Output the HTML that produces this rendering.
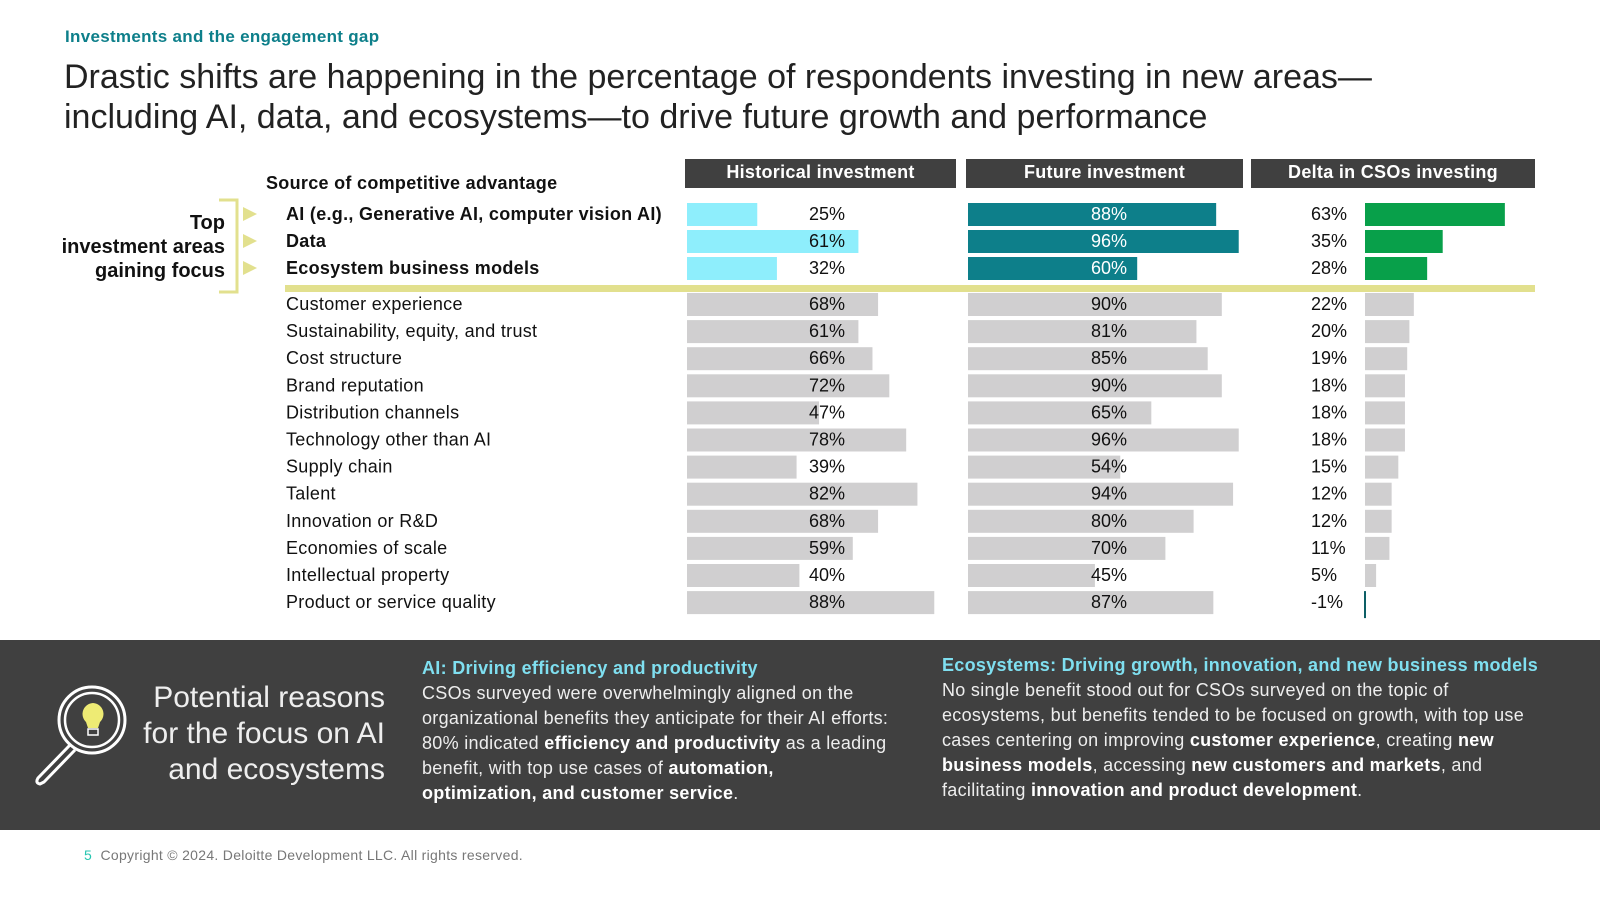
<!DOCTYPE html>
<html><head><meta charset="utf-8">
<style>
html,body{margin:0;padding:0;width:1600px;height:900px;background:#fff;overflow:hidden;font-family:"Liberation Sans",sans-serif;}
svg{position:absolute;left:0;top:0}
.t{position:absolute;margin:0}
</style></head>
<body>
<div class="t" style="left:65px;top:27px;font-size:17px;font-weight:bold;color:#0d7f8a;letter-spacing:0.3px">Investments and the engagement gap</div>
<div class="t" style="left:64px;top:57px;font-size:34px;line-height:40px;color:#222;width:1450px">Drastic shifts are happening in the percentage of respondents investing in new areas—<br>including AI, data, and ecosystems—to drive future growth and performance</div>

<svg id="chart" width="1600" height="640"></svg>

<div style="position:absolute;left:0;top:640px;width:1600px;height:190px;background:#404040"></div>
<svg width="1600" height="900" style="pointer-events:none">
<circle cx="92" cy="720" r="33" fill="none" stroke="#fff" stroke-width="3"/>
<circle cx="92" cy="720" r="27" fill="none" stroke="#fff" stroke-width="2.5"/>
<path d="M70 745 L38 778 Q35 783 40 784 L44 782 L75 750" fill="none" stroke="#fff" stroke-width="3" stroke-linejoin="round"/>
<path d="M93 703 a11 11 0 0 1 7 19 l-2 6 h-10 l-2 -6 a11 11 0 0 1 7 -19z" fill="#eeeb74"/>
<rect x="88" y="729" width="10" height="6" fill="none" stroke="#fff" stroke-width="1.5"/>
</svg>
<div class="t" style="left:100px;top:680px;width:285px;text-align:right;font-size:30px;line-height:36px;color:#eee">Potential reasons<br>for the focus on AI<br>and ecosystems</div>
<div class="t" style="left:422px;top:656px;white-space:nowrap;font-size:18px;line-height:25px;color:#eee;letter-spacing:0.3px"><b style="color:#7fdff0">AI: Driving efficiency and productivity</b><br>CSOs surveyed were overwhelmingly aligned on the<br>organizational benefits they anticipate for their AI efforts:<br>80% indicated <b style="color:#fff">efficiency and productivity</b> as a leading<br>benefit, with top use cases of <b style="color:#fff">automation,</b><br><b style="color:#fff">optimization, and customer service</b>.</div>
<div class="t" style="left:942px;top:653px;white-space:nowrap;font-size:18px;line-height:25px;color:#eee;letter-spacing:0.3px"><b style="color:#7fdff0">Ecosystems: Driving growth, innovation, and new business models</b><br>No single benefit stood out for CSOs surveyed on the topic of<br>ecosystems, but benefits tended to be focused on growth, with top use<br>cases centering on improving <b style="color:#fff">customer experience</b>, creating <b style="color:#fff">new</b><br><b style="color:#fff">business models</b>, accessing <b style="color:#fff">new customers and markets</b>, and<br>facilitating <b style="color:#fff">innovation and product development</b>.</div>
<div class="t" style="left:84px;top:847px;font-size:14px;color:#777;letter-spacing:0.3px"><span style="color:#26c6b0">5</span>&nbsp; Copyright © 2024. Deloitte Development LLC. All rights reserved.</div>

<script>
const categories=["AI (e.g., Generative AI, computer vision AI)","Data","Ecosystem business models","Customer experience","Sustainability, equity, and trust","Cost structure","Brand reputation","Distribution channels","Technology other than AI","Supply chain","Talent","Innovation or R&D","Economies of scale","Intellectual property","Product or service quality"];
const historical=[25,61,32,68,61,66,72,47,78,39,82,68,59,40,88];
const future=[88,96,60,90,81,85,90,65,96,54,94,80,70,45,87];
const delta=[63,35,28,22,20,19,18,18,18,15,12,12,11,5,-1];
const headers=["Historical investment","Future investment","Delta in CSOs investing"];

const NS="http://www.w3.org/2000/svg";
const svg=document.getElementById('chart');
function mk(tag,attrs,text){const e=document.createElementNS(NS,tag);for(const k in attrs)e.setAttribute(k,attrs[k]);if(text!==undefined)e.textContent=text;svg.appendChild(e);return e;}
function rowY(i){return i<3?214+i*27:304+(i-3)*27.1;}
const hx=v=>687+v*2.81, fx=v=>968+v*2.82, dx=v=>1365+v*2.22;
const hdr=[[685,271],[966,277],[1251,284]];
hdr.forEach((h,i)=>{
 let r=mk('rect',{x:h[0],y:159,width:h[1],height:29,fill:'#404040'});
 
 
 let t=mk('text',{x:h[0]+h[1]/2,y:178,'text-anchor':'middle','font-size':18,'font-weight':'bold',fill:'#fff','letter-spacing':0.3},headers[i]);
 
 
});
let st=mk('text',{x:266,y:189,'font-size':18,'font-weight':'bold',fill:'#111','letter-spacing':0.3},'Source of competitive advantage');


["Top","investment areas","gaining focus"].forEach((s,i)=>{
 let t=mk('text',{x:225,y:229+i*24,'text-anchor':'end','font-size':20,'font-weight':'bold',fill:'#111'},s);
 
 
});
let br=mk('path',{d:'M219 200 H237 V292 H219',fill:'none',stroke:'#e2e08e','stroke-width':3});


let sep=mk('rect',{x:285,y:285,width:1250,height:7,fill:'#e2e08e'});


categories.forEach((c,i)=>{
 const y=rowY(i), top=i<3;
 if(top){let tr=mk('path',{d:`M243 ${y-7} L257 ${y} L243 ${y+7}Z`,fill:'#e2e08e'});
  
  }
 let l=mk('text',{x:286,y:y+6,'font-size':18,'font-weight':top?'bold':'normal',fill:'#111','letter-spacing':0.3},c);
 
 
 let b1=mk('rect',{x:hx(0),y:y-11,width:hx(historical[i])-hx(0),height:23,fill:top?'#8eeefc':'#d0cfd0'});
 
 
 let t1=mk('text',{x:827,y:y+6,'text-anchor':'middle','font-size':18,fill:'#111'},historical[i]+'%');
 
 
 let b2=mk('rect',{x:fx(0),y:y-11,width:fx(future[i])-fx(0),height:23,fill:top?'#0d7f8a':'#d0cfd0'});
 
 
 let t2=mk('text',{x:1109,y:y+6,'text-anchor':'middle','font-size':18,fill:top?'#fff':'#111'},future[i]+'%');
 
 
 const d=delta[i];
 let b3;
 if(d>=0){b3=mk('rect',{x:dx(0),y:y-11,width:dx(d)-dx(0),height:23,fill:top?'#08a04a':'#d0cfd0'});}
 else{b3=mk('rect',{x:dx(0)-1,y:y-11,width:2,height:27,fill:'#0d5f66'});}
 
 
 let t3=mk('text',{x:1311,y:y+6,'font-size':18,fill:'#111'},d+'%');
 
 
});
</script>
</body></html>
